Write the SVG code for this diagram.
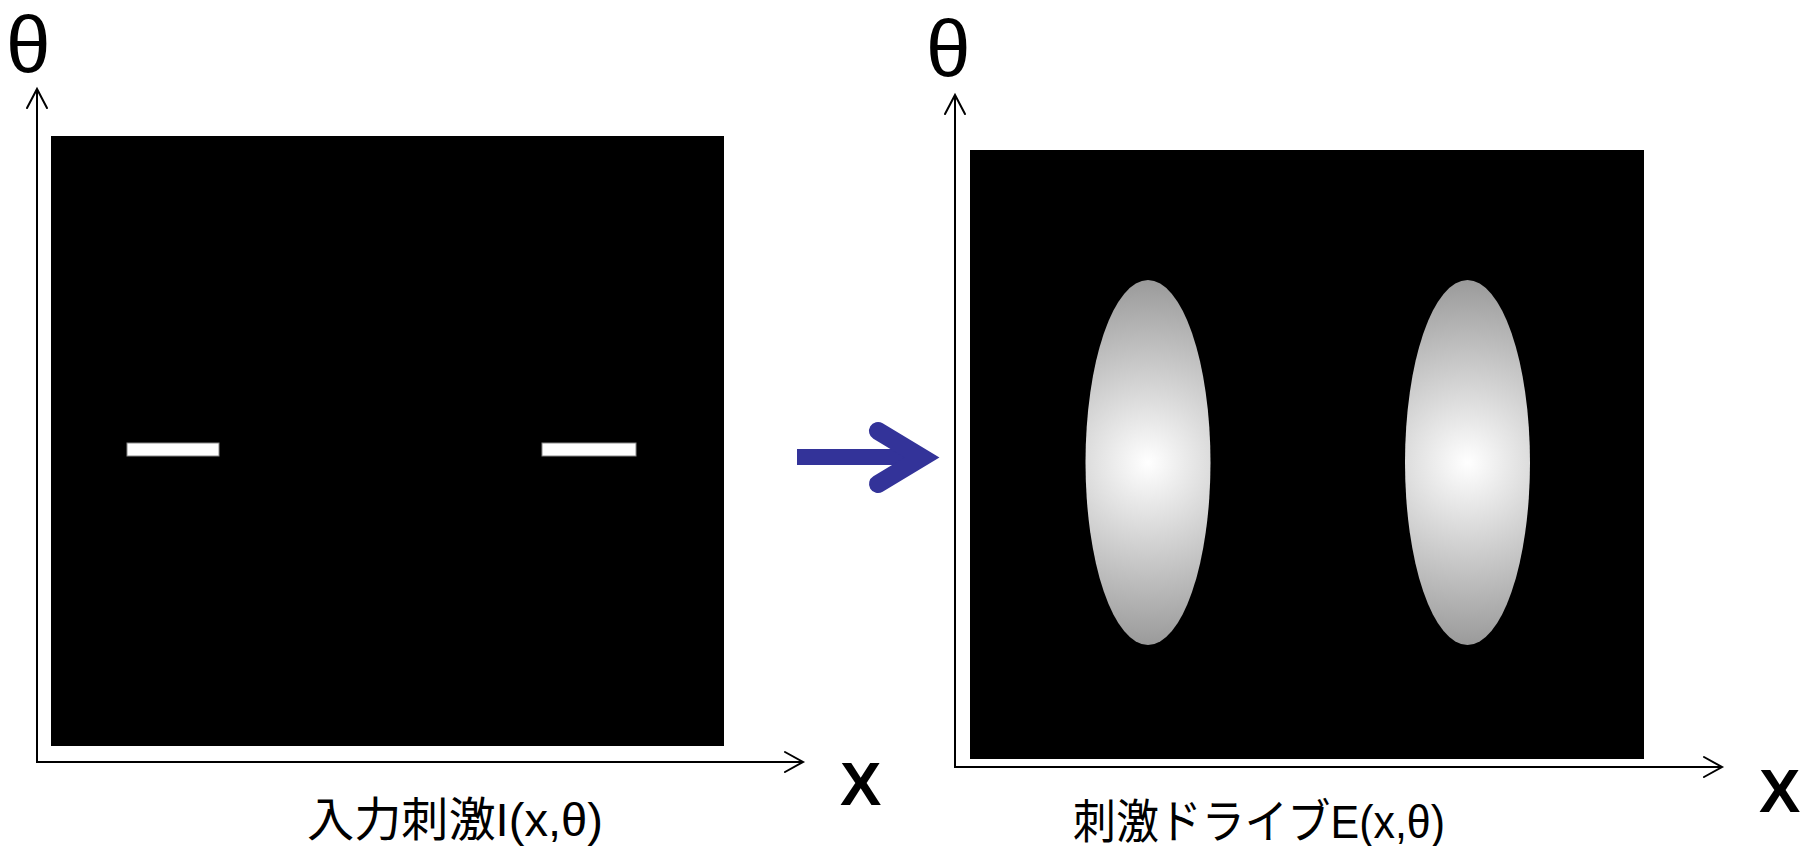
<svg xmlns="http://www.w3.org/2000/svg" width="1806" height="846" viewBox="0 0 1806 846">
<style>
.axis{stroke:#000;stroke-width:2;fill:none}
.ah{stroke:#000;stroke-width:2;fill:none;stroke-linecap:round;stroke-linejoin:miter}
.lbl{font-family:"Liberation Sans","Noto Sans CJK JP",sans-serif;fill:#000}
.theta{font-size:80px}
.xl{font-size:62px;font-weight:bold}
.cap{font-size:47px}
.bar{fill:#fff;stroke:#888;stroke-width:1}
</style>
<defs>
<radialGradient id="g1" gradientUnits="userSpaceOnUse" cx="1148" cy="462.5" r="183">
<stop offset="0" stop-color="#ffffff"/>
<stop offset="1" stop-color="#9a9a9a"/>
</radialGradient>
<radialGradient id="g2" gradientUnits="userSpaceOnUse" cx="1467.5" cy="462.5" r="183">
<stop offset="0" stop-color="#ffffff"/>
<stop offset="1" stop-color="#9a9a9a"/>
</radialGradient>
</defs>
<rect width="1806" height="846" fill="#fff"/>

<g id="left-panel">
<rect x="51" y="136" width="673" height="610" fill="#000"/>
<rect class="bar" x="127" y="443" width="92" height="13"/>
<rect class="bar" x="542" y="443" width="94" height="13"/>
</g>

<g id="right-panel">
<rect x="970" y="150" width="674" height="609" fill="#000"/>
<ellipse cx="1148" cy="462.5" rx="62.5" ry="182.5" fill="url(#g1)"/>
<ellipse cx="1467.5" cy="462.5" rx="62.5" ry="182.5" fill="url(#g2)"/>
</g>

<g id="connectors">
<polyline class="axis" points="37,89 37,762 803,762"/>
<polyline class="ah" points="27,108 37,89 47,108"/>
<polyline class="ah" points="785,752 803,762 785,772"/>
<polyline class="axis" points="955,95 955,767 1722,767"/>
<polyline class="ah" points="945,114 955,95 965,114"/>
<polyline class="ah" points="1704,757 1722,767 1704,777"/>
<line x1="797" y1="457" x2="915" y2="457" stroke="#333399" stroke-width="16"/>
<polyline points="878,431 922,457.5 878,484" fill="none" stroke="#333399" stroke-width="18" stroke-linecap="round" stroke-linejoin="miter"/>
</g>

<g id="labels">
<text class="lbl theta" x="6" y="72">θ</text>
<text class="lbl theta" x="926" y="76">θ</text>
<text class="lbl xl" x="840" y="805">X</text>
<text class="lbl xl" x="1759" y="812">X</text>
<text class="lbl cap" x="307" y="836" textLength="296" lengthAdjust="spacingAndGlyphs">入力刺激I(x,θ)</text>
<text class="lbl cap" x="1073" y="838" textLength="372" lengthAdjust="spacingAndGlyphs">刺激ドライブE(x,θ)</text>
</g>
</svg>
